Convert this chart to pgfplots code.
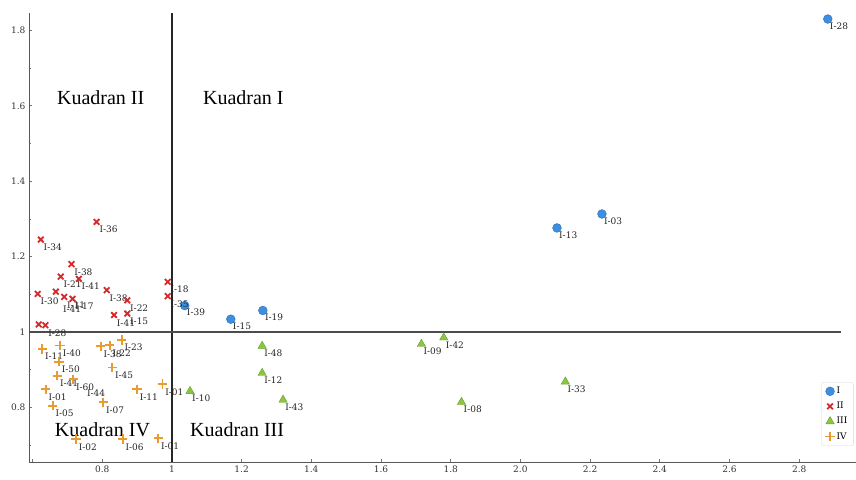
\documentclass[border=0pt]{standalone}
\usepackage{fontspec}
\setmainfont{DejaVu Serif}
\newfontfamily\kfont{Liberation Serif}
\usepackage{pgfplots}
\pgfplotsset{compat=1.18}

\definecolor{qblue}{HTML}{3D8FE0}
\definecolor{qblueedge}{HTML}{2A6DB8}
\definecolor{qred}{HTML}{D42A2A}
\definecolor{qgreen}{HTML}{8CC63F}
\definecolor{qgreenedge}{HTML}{62A02A}
\definecolor{qorange}{HTML}{E89B2E}

% quadrant I
\pgfplotstableread{
x y label
1.037 1.070 I-39
1.169 1.034 I-15
1.261 1.057 I-19
2.105 1.276 I-13
2.234 1.313 I-03
2.882 1.830 I-28
}\qone
% quadrant II
\pgfplotstableread{
x y label
0.784 1.292 I-36
0.624 1.245 I-34
0.712 1.180 I-38
0.681 1.147 I-21
0.733 1.141 I-41
0.615 1.101 I-30
0.691 1.093 I-11
0.715 1.088 I-17
0.813 1.111 I-38
0.872 1.084 I-22
0.834 1.045 I-41
0.872 1.049 I-15
0.637 1.018 I-28
0.988 1.133 I-18
0.988 1.095 I-35
}\qtwo
\pgfplotstableread{
x y
0.667 1.107
0.618 1.020
}\qtwoextra
% quadrant III
\pgfplotstableread{
x y label
1.052 0.843 I-10
1.259 0.963 I-48
1.259 0.891 I-12
1.319 0.820 I-43
1.716 0.968 I-09
1.780 0.985 I-42
1.831 0.814 I-08
2.129 0.868 I-33
}\qthree
% quadrant IV
\pgfplotstableread{
x y label
0.628 0.955 I-11
0.679 0.964 I-40
0.676 0.921 I-50
0.671 0.884 I-41
0.717 0.875 I-60
0.638 0.848 I-01
0.658 0.804 I-05
0.796 0.962 I-38
0.822 0.965 I-22
0.856 0.979 I-23
0.829 0.906 I-45
0.900 0.848 I-11
0.803 0.814 I-07
0.973 0.862 I-01
0.725 0.716 I-02
0.859 0.716 I-06
0.961 0.718 I-01
}\qfour

\begin{document}
\begin{tikzpicture}
\begin{axis}[
    scale only axis,
    width=827pt, height=449pt,
    xmin=0.59, xmax=2.963,
    ymin=0.6552, ymax=1.846,
    axis x line*=bottom, axis y line*=left,
    axis line style={-, draw=black!65, line width=0.9pt},
    xtick={0.6,0.8,1,1.2,1.4,1.6,1.8,2,2.2,2.4,2.6,2.8},
    xticklabels={,0.8,1,1.2,1.4,1.6,1.8,2.0,2.2,2.4,2.6,2.8},
    ytick={0.8,1,1.2,1.4,1.6,1.8},
    yticklabels={0.8,1,1.2,1.4,1.6,1.8},
    minor ytick={0.7,0.9,1.1,1.3,1.5,1.7},
    tick align=inside,
    major tick length=3pt, minor tick length=2pt,
    tick style={black!55, line width=0.6pt},
    ticklabel style={font=\fontsize{9}{10}\selectfont, text=black!80},
    point meta=explicit symbolic,
    every node near coord/.append style={anchor=north west, inner sep=0pt,
        xshift=2pt, yshift=-3.5pt, font=\fontsize{9}{10}\selectfont, text=black!85},
    legend style={at={(rel axis cs:0.958,0.178)}, anchor=north west,
        draw=black!15, fill=white, rounded corners=2pt,
        font=\fontsize{9}{10}\selectfont, inner xsep=4pt, inner ysep=3pt,
        row sep=3pt},
    legend cell align=left,
    legend image code/.code={\draw[mark repeat=2,mark phase=2]
        plot coordinates {(0pt,0pt)(5pt,0pt)(10pt,0pt)};},
]
% quadrant lines
\addplot[forget plot, black!85, line width=1.5pt] coordinates {(1,0.6552) (1,1.846)};
\addplot[forget plot, black!70, line width=1.5pt] coordinates {(0.59,1) (2.92,1)};

\addplot[only marks, mark=*, mark size=4.4pt,
    mark options={fill=qblue, draw=qblueedge, line width=0.4pt},
    nodes near coords] table[meta=label] {\qone};
\addlegendentry{I}
\addplot[only marks, mark=x, mark size=4pt, qred,
    mark options={line width=1.8pt},
    nodes near coords] table[meta=label] {\qtwo};
\addlegendentry{II}
\addplot[only marks, mark=triangle*, mark size=4.8pt,
    mark options={fill=qgreen, draw=qgreenedge, line width=0.4pt},
    nodes near coords] table[meta=label] {\qthree};
\addlegendentry{III}
\addplot[only marks, mark=+, mark size=4.6pt, qorange,
    mark options={line width=1.7pt},
    nodes near coords] table[meta=label] {\qfour};
\addlegendentry{IV}
\addplot[forget plot, only marks, mark=x, mark size=4pt, qred,
    mark options={line width=1.8pt}, point meta=none] table {\qtwoextra};

% extra labels
\node[anchor=north west, inner sep=0pt, font=\fontsize{9}{10}\selectfont, text=black!85]
    at (axis cs:0.687,1.069) {I-41};
\node[anchor=north west, inner sep=0pt, font=\fontsize{9}{10}\selectfont, text=black!85]
    at (axis cs:0.756,0.846) {I-44};

% quadrant names
\node[anchor=west, inner sep=0pt, font=\kfont\fontsize{20}{24}\selectfont]
    at (axis cs:0.670,1.621) {Kuadran II};
\node[anchor=west, inner sep=0pt, font=\kfont\fontsize{20}{24}\selectfont]
    at (axis cs:1.089,1.621) {Kuadran I};
\node[anchor=west, inner sep=0pt, font=\kfont\fontsize{20}{24}\selectfont]
    at (axis cs:0.664,0.740) {Kuadran IV};
\node[anchor=west, inner sep=0pt, font=\kfont\fontsize{20}{24}\selectfont]
    at (axis cs:1.052,0.740) {Kuadran III};
\end{axis}
\pgfresetboundingbox
\path ([shift={(-29pt,-17pt)}]current axis.south west)
    rectangle ([shift={(0pt,13pt)}]current axis.north east);
\end{tikzpicture}
\end{document}
